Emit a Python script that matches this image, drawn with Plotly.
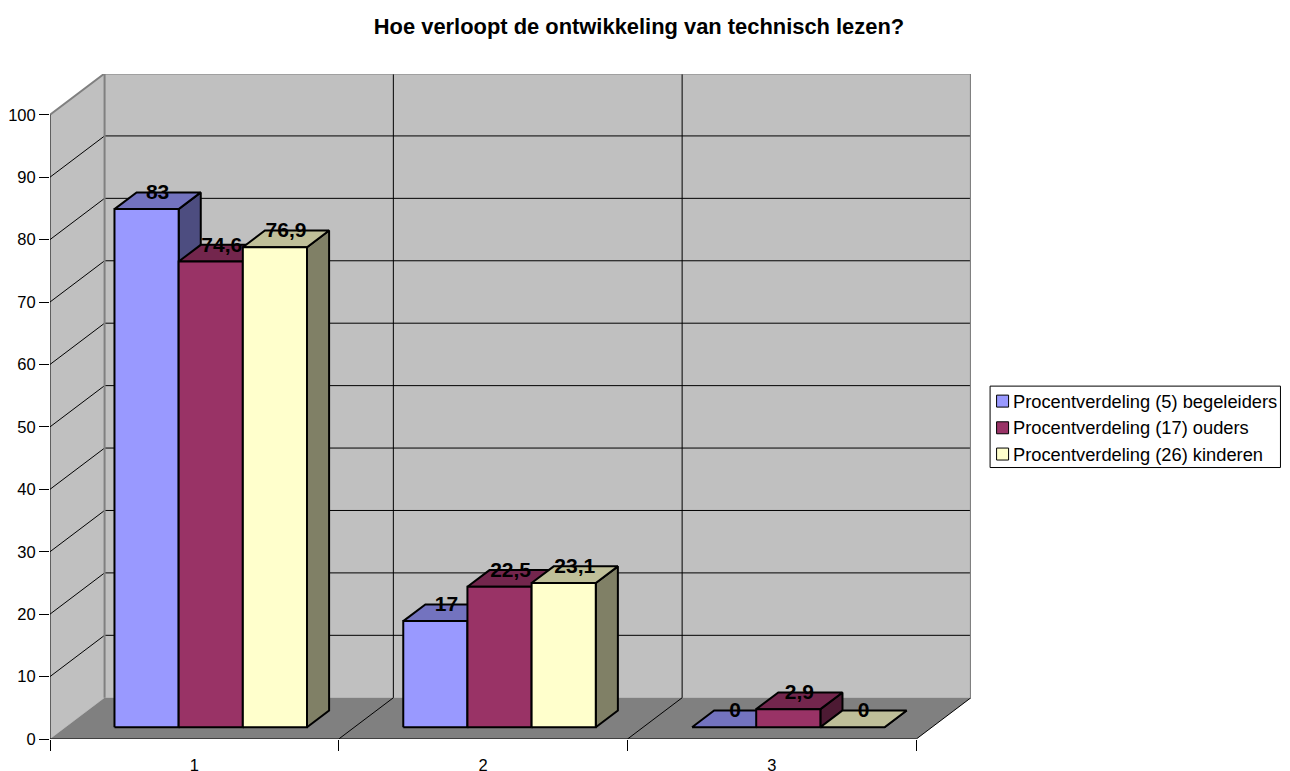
import plotly.graph_objects as go

TITLE = "Hoe verloopt de ontwikkeling van technisch lezen?"
CATEGORIES = ["1", "2", "3"]
SERIES_NAMES = ["Procentverdeling (5) begeleiders", "Procentverdeling (17) ouders", "Procentverdeling (26) kinderen"]
BEGELEIDERS = [83, 17, 0]
OUDERS = [74.6, 22.5, 2.9]
KINDEREN = [76.9, 23.1, 0]
LABELS_BEGELEIDERS = ["83", "17", "0"]
LABELS_OUDERS = ["74,6", "22,5", "2,9"]
LABELS_KINDEREN = ["76,9", "23,1", "0"]
Y_TICKS = [0, 10, 20, 30, 40, 50, 60, 70, 80, 90, 100]
FRONT = ["#9999FF", "#993366", "#FFFFCC"]
TOP = ["#7373BF", "#73264D", "#BFBF99"]
SIDE = ["#4D4D80", "#4D1A33", "#808066"]

FONT = "Liberation Sans, Arial, sans-serif"
BODY = 8                    # the page's default body margin
W, H = 1290, 771
X0, Y0 = 50.0 - BODY, 739.3 - BODY   # figure pixel position of category 0 / value 0
CAT_PX, VAL_PX = 288.9, 6.25
DX_PX, DY_PX = 54.6, 41.3   # full depth offset, pixels
RIGHT_PX, TOP_PX = 971.4 - BODY, 73.5 - BODY
# oblique projection expressed in axis units
DX = DX_PX / CAT_PX
DY = DY_PX / VAL_PX
XMAX = (RIGHT_PX - X0) / CAT_PX
YMAX = (Y0 - TOP_PX) / VAL_PX
NCAT = len(CATEGORIES)
VMAX = Y_TICKS[-1]
D_FRONT, D_BACK = 0.285, 0.69
BAR_W = 64.2 / CAT_PX
GAP = (1 - 3 * BAR_W) / 2 + 0.8 / CAT_PX


def proj(c, v, d=0.0):
    return c + d * DX, v + d * DY


def poly(pts, fill, line="#000000", width=2.0):
    xs, ys = zip(*[proj(*p) for p in pts])
    return go.Scatter(x=list(xs) + [xs[0]], y=list(ys) + [ys[0]], mode="lines", fill="toself",
                      fillcolor=fill, line=dict(color=line, width=width), hoverinfo="skip",
                      showlegend=False, cliponaxis=False)


def path(pts, color, width=1.0):
    xs, ys = zip(*[proj(*p) for p in pts])
    return go.Scatter(x=list(xs), y=list(ys), mode="lines", line=dict(color=color, width=width),
                      hoverinfo="skip", showlegend=False, cliponaxis=False)


traces = []
# walls and floor
traces.append(poly([(0, 0, 0), (0, VMAX, 0), (0, VMAX, 1), (0, 0, 1)], "#C0C0C0", "#C0C0C0", 0.1))
traces.append(poly([(0, 0, 1), (0, VMAX, 1), (NCAT, VMAX, 1), (NCAT, 0, 1)], "#C0C0C0", "#C0C0C0", 0.1))
traces.append(poly([(0, 0, 0), (NCAT, 0, 0), (NCAT, 0, 1), (0, 0, 1)], "#808080", "#808080", 0.1))
# gridlines
for t in Y_TICKS[1:-1]:
    traces.append(path([(0, t, 0), (0, t, 1), (NCAT, t, 1)], "#000000", 1.0))
for c in range(1, NCAT):
    traces.append(path([(c, 0, 0), (c, 0, 1), (c, VMAX, 1)], "#000000", 1.0))
traces.append(path([(NCAT, 0, 0), (NCAT, 0, 1)], "#000000", 1.0))
# wall outline
traces.append(path([(0, 0, 1), (0, VMAX, 1)], "#808080", 2.0))
traces.append(path([(0, VMAX, 0), (0, VMAX, 1), (NCAT, VMAX, 1), (NCAT, 0, 1)], "#808080", 2.0))
# axis lines
traces.append(path([(0, 0, 0), (0, VMAX, 0)], "#000000", 1.0))
traces.append(path([(0, 0, 0), (NCAT, 0, 0)], "#000000", 1.0))

# bars
series = [BEGELEIDERS, OUDERS, KINDEREN]
series_labels = [LABELS_BEGELEIDERS, LABELS_OUDERS, LABELS_KINDEREN]
lab_x, lab_y, lab_t = [], [], []
for ci in range(NCAT):
    for si, vals in enumerate(series):
        v = vals[ci]
        a = ci + GAP + si * BAR_W
        b = a + BAR_W
        traces.append(poly([(b, 0, D_FRONT), (b, v, D_FRONT), (b, v, D_BACK), (b, 0, D_BACK)], SIDE[si]))
        traces.append(poly([(a, v, D_FRONT), (b, v, D_FRONT), (b, v, D_BACK), (a, v, D_BACK)], TOP[si]))
        if v > 0:
            traces.append(poly([(a, 0, D_FRONT), (b, 0, D_FRONT), (b, v, D_FRONT), (a, v, D_FRONT)], FRONT[si]))
        lx, _ = proj(a + BAR_W / 2, v, (D_FRONT + D_BACK) / 2)
        _, ly = proj(a, v, D_BACK)
        lab_x.append(lx)
        lab_y.append(ly - 1.5 / VAL_PX)
        lab_t.append(series_labels[si][ci])
traces.append(go.Scatter(x=lab_x, y=lab_y, text=lab_t, mode="text", textposition="middle center",
                         textfont=dict(family=FONT, size=21, color="#000000"), hoverinfo="skip",
                         showlegend=False, cliponaxis=False, texttemplate="<b>%{text}</b>"))

fig = go.Figure(traces)

# legend box
LEG_L, LEG_R, LEG_T, LEG_B = 990.5, 1281, 386, 467.5
ROWS = [401, 427.7, 454]
PAPER_X = lambda p: (p - BODY - X0) / (RIGHT_PX - X0)
PAPER_Y = lambda p: (Y0 - (p - BODY)) / (Y0 - TOP_PX)
shapes = [dict(type="rect", xref="paper", yref="paper", x0=PAPER_X(LEG_L), x1=PAPER_X(LEG_R),
               y0=PAPER_Y(LEG_T), y1=PAPER_Y(LEG_B), line=dict(color="#000000", width=1),
               fillcolor="#FFFFFF")]
anns = []
for i, name in enumerate(SERIES_NAMES):
    shapes.append(dict(type="rect", xref="paper", yref="paper", x0=PAPER_X(997), x1=PAPER_X(1009),
                       y0=PAPER_Y(ROWS[i] - 6), y1=PAPER_Y(ROWS[i] + 6),
                       line=dict(color="#000000", width=1), fillcolor=FRONT[i]))
    anns.append(dict(xref="paper", yref="paper", x=PAPER_X(1013), y=PAPER_Y(ROWS[i]), text=name,
                     showarrow=False, xanchor="left", yanchor="middle", borderpad=0, borderwidth=0,
                     font=dict(family=FONT, size=18.3, color="#000000")))

fig.update_layout(
    width=W, height=H, margin=dict(l=X0, r=W - RIGHT_PX, t=TOP_PX, b=H - Y0, pad=0),
    paper_bgcolor="#FFFFFF", plot_bgcolor="#FFFFFF", showlegend=False,
    font=dict(family=FONT, color="#000000"),
    title=dict(text="<b>" + TITLE + "</b>", x=(639 - BODY) / W, xanchor="center", y=1 - (26 - BODY) / H,
               yanchor="middle", font=dict(family=FONT, size=21.9, color="#000000")),
    shapes=shapes, annotations=anns,
    xaxis=dict(range=[0, XMAX], showgrid=False, zeroline=False, showline=False, automargin=False,
               tickmode="array", tickvals=[i + 0.5 for i in range(NCAT)], ticktext=CATEGORIES,
               ticks="", tickfont=dict(family=FONT, size=16.5), ticklabelstandoff=14,
               minor=dict(tickmode="array", tickvals=list(range(NCAT + 1)), ticks="outside", ticklen=11,
                          tickcolor="#000000", tickwidth=1, showgrid=False)),
    yaxis=dict(range=[0, YMAX], showgrid=False, zeroline=False, showline=False, automargin=False,
               tickmode="array", tickvals=Y_TICKS, ticks="outside", ticklen=10, tickcolor="#000000",
               tickwidth=1, tickfont=dict(family=FONT, size=16.5)),
)
fig.write_html("out.html")
